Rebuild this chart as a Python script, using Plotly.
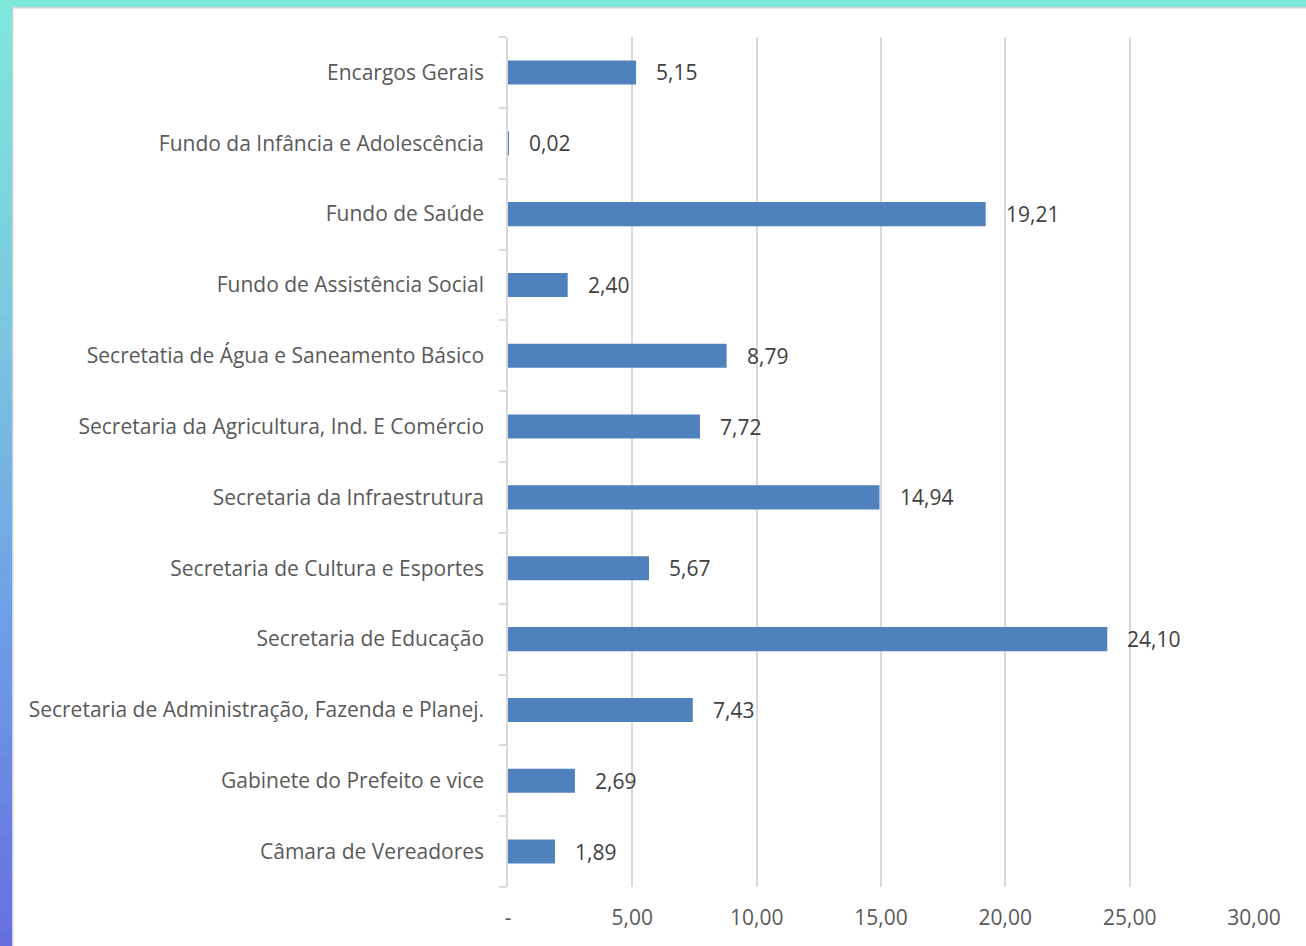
import plotly.graph_objects as go

categories = [
    "Câmara de Vereadores",
    "Gabinete do Prefeito e vice",
    "Secretaria de Administração, Fazenda e Planej.",
    "Secretaria de Educação",
    "Secretaria de Cultura e Esportes",
    "Secretaria da Infraestrutura",
    "Secretaria da Agricultura, Ind. E Comércio",
    "Secretatia de Água e Saneamento Básico",
    "Fundo de Assistência Social",
    "Fundo de Saúde",
    "Fundo da Infância e Adolescência",
    "Encargos Gerais",
]
values = [1.89, 2.69, 7.43, 24.10, 5.67, 14.94, 7.72, 8.79, 2.40, 19.21, 0.02, 5.15]
value_labels = ["1,89", "2,69", "7,43", "24,10", "5,67", "14,94", "7,72", "8,79", "2,40", "19,21", "0,02", "5,15"]
x_tickvals = [0, 5, 10, 15, 20, 25, 30]
x_ticktext = ["-", "5,00", "10,00", "15,00", "20,00", "25,00", "30,00"]

W, H = 1306, 946
ML, MR, MT, MB = 508, 52, 37, 59
PW, PH = W - ML - MR, H - MT - MB

FONT = "Open Sans"
TXT = "#595959"
FS = 21

fig = go.Figure()
fig.add_trace(go.Bar(
    y=categories, x=values, orientation="h",
    marker=dict(color="#4F81BD", line=dict(width=0)),
    hoverinfo="skip",
))

annotations = []
for c, v, t in zip(categories, values, value_labels):
    annotations.append(dict(
        x=v, y=c, xref="x", yref="y", text=t, showarrow=False,
        xanchor="left", yanchor="middle", xshift=18,
        font=dict(family=FONT, size=FS, color="#404040"),
    ))

def px_x(p):
    return (p - ML) / PW

def px_y(p):
    return 1 - (p - MT) / PH

shapes = []
shapes.append(dict(type="rect", xref="paper", yref="paper",
                   x0=px_x(12.5), x1=px_x(W + 5), y0=px_y(H + 5), y1=px_y(7.5),
                   fillcolor="white", line=dict(color="#d4d4d4", width=2), layer="below"))
shapes.append(dict(type="rect", xref="paper", yref="paper",
                   x0=px_x(0), x1=px_x(W), y0=px_y(7), y1=px_y(0),
                   fillcolor="#7EE8DA", line=dict(width=0), layer="below"))
stops = [(0, (126, 232, 218)), (315, (124, 200, 224)), (615, (110, 160, 230)), (946, (102, 110, 224))]
N = 60
for i in range(N):
    y0p = i * H / N
    y1p = (i + 1) * H / N
    ym = (y0p + y1p) / 2
    for j in range(len(stops) - 1):
        if stops[j][0] <= ym <= stops[j + 1][0]:
            f = (ym - stops[j][0]) / (stops[j + 1][0] - stops[j][0])
            col = tuple(int(round(a + (b - a) * f)) for a, b in zip(stops[j][1], stops[j + 1][1]))
            break
    shapes.append(dict(type="rect", xref="paper", yref="paper",
                       x0=px_x(0), x1=px_x(12), y0=px_y(y1p + 0.5), y1=px_y(y0p),
                       fillcolor="rgb(%d,%d,%d)" % col, line=dict(width=0), layer="below"))

fig.update_layout(
    width=W, height=H,
    margin=dict(l=ML, r=MR, t=MT, b=MB),
    paper_bgcolor="#7EE8DA",
    plot_bgcolor="rgba(0,0,0,0)",
    bargap=0.66,
    showlegend=False,
    font=dict(family=FONT, size=FS, color=TXT),
    xaxis=dict(
        range=[0, 30], tickvals=x_tickvals, ticktext=x_ticktext,
        showgrid=True, gridcolor="#d9d9d9", gridwidth=1.5,
        zeroline=False, showline=False, ticks="",
        tickfont=dict(family=FONT, size=FS, color=TXT),
        ticklabelstandoff=16,
    ),
    yaxis=dict(
        type="category", categoryorder="array", categoryarray=categories,
        showline=True, linecolor="#d9d9d9", linewidth=1.5,
        ticks="outside", tickson="boundaries", ticklen=7, tickcolor="#d9d9d9", tickwidth=1.5,
        showgrid=False,
        tickfont=dict(family=FONT, size=FS, color=TXT),
        ticklabelstandoff=18,
    ),
    annotations=annotations,
    shapes=shapes,
)

fig.write_html(
    "out.html",
    config={"displayModeBar": False},
    post_script="document.body.style.margin='0';document.body.style.overflow='hidden';",
)
